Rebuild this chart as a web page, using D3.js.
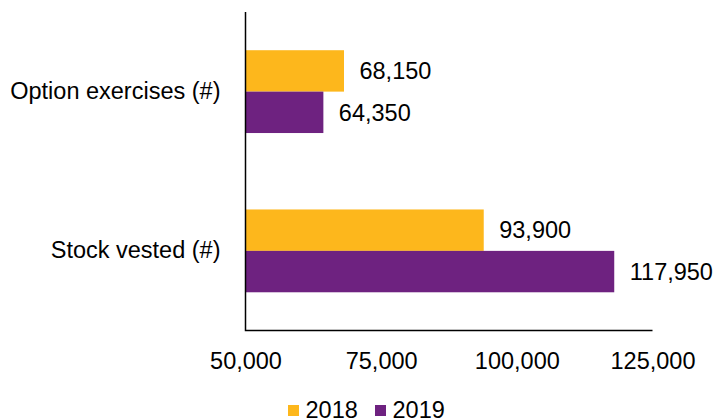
<!DOCTYPE html>
<html>
<head>
<meta charset="utf-8">
<script src="https://cdn.jsdelivr.net/npm/d3@7"></script>
<style>
  html, body { margin: 0; padding: 0; background: #fff; }
  svg { display: block; font-family: "Liberation Sans", Arial, sans-serif; }
</style>
</head>
<body>
<svg id="chart" width="718" height="420"></svg>
<script>
// Share activity by category, two reporting years
const categories = ["Option exercises (#)", "Stock vested (#)"];
const seriesNames = ["2018", "2019"];
const values2018 = [68150, 93900];
const values2019 = [64350, 117950];
const xTicks = [50000, 75000, 100000, 125000];
const colors = ["#FDB71C", "#6E2280"];

const seriesValues = [values2018, values2019];
const svg = d3.select("#chart");
const fontSize = 23.5;
const fmt = d3.format(",");

const plotLeft = 245.5, plotRight = 652.5, plotTop = 12, plotBottom = 330.5;

const x = d3.scaleLinear().domain([50000, 125000]).range([plotLeft, plotRight]);
const y = d3.scaleBand().domain(categories).range([plotTop, plotBottom])
  .paddingInner(0.48).paddingOuter(0.24);
const ySub = d3.scaleBand().domain(seriesNames).range([0, y.bandwidth()]).padding(0);

// Bars with value labels
categories.forEach((cat, ci) => {
  const g = svg.append("g").attr("transform", `translate(0,${y(cat)})`);
  seriesNames.forEach((s, si) => {
    const v = seriesValues[si][ci];
    g.append("rect")
      .attr("x", x(50000))
      .attr("y", ySub(s))
      .attr("width", x(v) - x(50000))
      .attr("height", ySub.bandwidth())
      .attr("fill", colors[si]);
    g.append("text")
      .attr("x", x(v) + 15.5)
      .attr("y", ySub(s) + ySub.bandwidth() / 2)
      .attr("dy", "0.35em")
      .attr("font-size", fontSize)
      .attr("fill", "#000")
      .text(fmt(v));
  });
});

// Category axis
const yAxis = d3.axisLeft(y).tickSize(0).tickPadding(25);
const gy = svg.append("g").attr("transform", `translate(${plotLeft},0)`).call(yAxis);
gy.select(".domain").remove();
gy.selectAll("text").attr("font-size", fontSize).attr("fill", "#000")
  .attr("font-family", "Liberation Sans, Arial, sans-serif");

// Value axis
const xAxis = d3.axisBottom(x).tickValues(xTicks).tickFormat(fmt).tickSize(0).tickPadding(22);
const gx = svg.append("g").attr("transform", `translate(0,${plotBottom})`).call(xAxis);
gx.select(".domain").remove();
gx.selectAll("text").attr("font-size", fontSize).attr("fill", "#000")
  .attr("font-family", "Liberation Sans, Arial, sans-serif");

// Axis lines
svg.append("path")
  .attr("d", `M${plotLeft},${plotTop}V${plotBottom}H${plotRight}`)
  .attr("fill", "none")
  .attr("stroke", "#000")
  .attr("stroke-width", 1.5);

// Legend
const legend = svg.append("g").attr("transform", "translate(288,405)");
const legendOffsets = [0, 87];
seriesNames.forEach((s, i) => {
  const lg = legend.append("g").attr("transform", `translate(${legendOffsets[i]},0)`);
  lg.append("rect").attr("width", 11).attr("height", 11).attr("fill", colors[i]);
  lg.append("text")
    .attr("x", 17.5)
    .attr("y", 12.8)
    .attr("font-size", fontSize)
    .attr("fill", "#000")
    .text(s);
});
</script>
</body>
</html>
